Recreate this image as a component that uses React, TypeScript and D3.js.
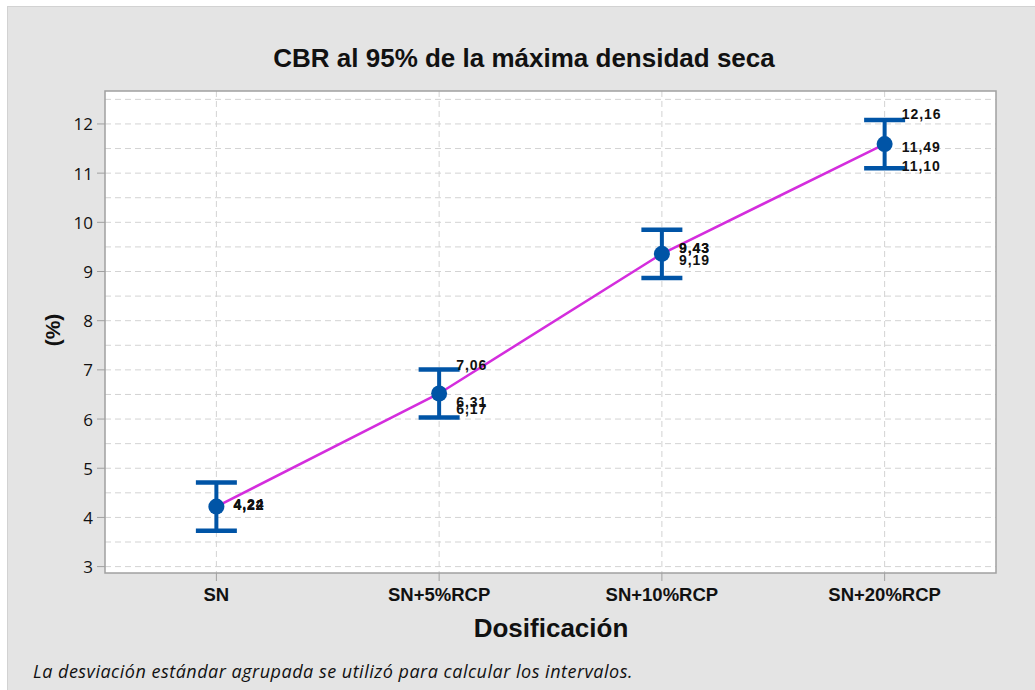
import React from "react";
import * as d3 from "d3";

const categories = ["SN", "SN+5%RCP", "SN+10%RCP", "SN+20%RCP"];
const means = [4.22, 6.52, 9.36, 11.59];
const ciLower = [3.73, 6.03, 8.87, 11.10];
const ciUpper = [4.71, 7.01, 9.85, 12.08];
const pointLabels = [
  [4.22, 4.24, 4.22],
  [7.06, 6.31, 6.17],
  [9.43, 9.43, 9.19],
  [12.16, 11.49, 11.1],
];
const yTicks = [3, 4, 5, 6, 7, 8, 9, 10, 11, 12];
const yGrid = [3, 3.5, 4, 4.5, 5, 5.5, 6, 6.5, 7, 7.5, 8, 8.5, 9, 9.5, 10, 10.5, 11, 11.5, 12, 12.5];

const W = 1035;
const H = 690;
const left = 105;
const right = 996;
const top = 91;
const bottom = 573;

export default function App() {
  const x = d3.scalePoint<string>().domain(categories).range([left, right]).padding(0.5);
  const y = d3.scaleLinear().domain([2.87, 12.67]).range([bottom, top]);
  const line = d3
    .line<number>()
    .x((_, i) => x(categories[i]) as number)
    .y((d) => y(d));
  const fmt = (v: number) => v.toFixed(2).replace(".", ",");
  const blue = "#0054a6";
  const capHalf = 20.5;

  return (
    <svg
      width={W}
      height={H}
      style={{ position: "absolute", left: 0, top: 0 }}
      fontFamily="'Liberation Sans', Arial, sans-serif"
    >
      <rect x={0} y={0} width={W} height={H} fill="#ffffff" />
      <rect x={7.5} y={6.5} width={W} height={H} fill="#e4e4e4" stroke="#d2d2d2" strokeWidth={1} />
      <rect x={left} y={top} width={right - left} height={bottom - top} fill="#ffffff" />
      {yGrid.map((v) => (
        <line
          key={"g" + v}
          x1={left}
          x2={right}
          y1={y(v)}
          y2={y(v)}
          stroke="#d3d3d3"
          strokeWidth={1}
          strokeDasharray="6,4"
        />
      ))}
      {categories.map((c) => (
        <line
          key={"v" + c}
          x1={x(c)}
          x2={x(c)}
          y1={top}
          y2={bottom}
          stroke="#d3d3d3"
          strokeWidth={1}
          strokeDasharray="6,4"
        />
      ))}
      <rect
        x={left}
        y={top}
        width={right - left}
        height={bottom - top}
        fill="none"
        stroke="#a0a0a0"
        strokeWidth={1.5}
      />
      {yTicks.map((v) => (
        <g key={"t" + v}>
          <line x1={left - 8} x2={left} y1={y(v)} y2={y(v)} stroke="#a0a0a0" strokeWidth={1} />
          <text
            x={left - 12}
            y={y(v)}
            textAnchor="end"
            dominantBaseline="central"
            fontSize={17}
            fontFamily="'Open Sans', 'Noto Sans', sans-serif"
            fill="#111"
          >
            {v}
          </text>
        </g>
      ))}
      {categories.map((c) => (
        <g key={"x" + c}>
          <line x1={x(c)} x2={x(c)} y1={bottom} y2={bottom + 8} stroke="#a0a0a0" strokeWidth={1} />
          <text x={x(c)} y={bottom + 28} textAnchor="middle" fontSize={18.5} fontWeight="bold" fill="#111">
            {c}
          </text>
        </g>
      ))}
      <path d={line(means) || ""} fill="none" stroke="#d42ddd" strokeWidth={2.5} />
      {categories.map((c, i) => {
        const cx = x(c) as number;
        return (
          <g key={"e" + c}>
            <line x1={cx} x2={cx} y1={y(ciLower[i])} y2={y(ciUpper[i])} stroke={blue} strokeWidth={4} />
            <line x1={cx - capHalf} x2={cx + capHalf} y1={y(ciLower[i])} y2={y(ciLower[i])} stroke={blue} strokeWidth={4.5} />
            <line x1={cx - capHalf} x2={cx + capHalf} y1={y(ciUpper[i])} y2={y(ciUpper[i])} stroke={blue} strokeWidth={4.5} />
            <circle cx={cx} cy={y(means[i])} r={8} fill={blue} />
            {pointLabels[i].map((v, j) => (
              <text
                key={j}
                x={cx + 17}
                y={y(v) - 2}
                dominantBaseline="central"
                fontSize={14}
                letterSpacing={1}
                fontWeight="bold"
                fill="#111"
              >
                {fmt(v)}
              </text>
            ))}
          </g>
        );
      })}
      <text x={524} y={67} textAnchor="middle" fontSize={26} fontWeight="bold" fill="#111">
        CBR al 95% de la máxima densidad seca
      </text>
      <text
        transform={`translate(52,${(top + bottom) / 2 - 2}) rotate(-90)`}
        textAnchor="middle"
        dominantBaseline="central"
        fontSize={21}
        fontWeight="bold"
        fill="#111"
      >
        (%)
      </text>
      <text x={551} y={637} textAnchor="middle" fontSize={26} fontWeight="bold" fill="#111">
        Dosificación
      </text>
      <text
        x={33}
        y={678}
        fontSize={18}
        letterSpacing={0.5}
        fontStyle="italic"
        fontFamily="'Open Sans', 'Noto Sans', sans-serif"
        fill="#111"
      >
        La desviación estándar agrupada se utilizó para calcular los intervalos.
      </text>
    </svg>
  );
}
